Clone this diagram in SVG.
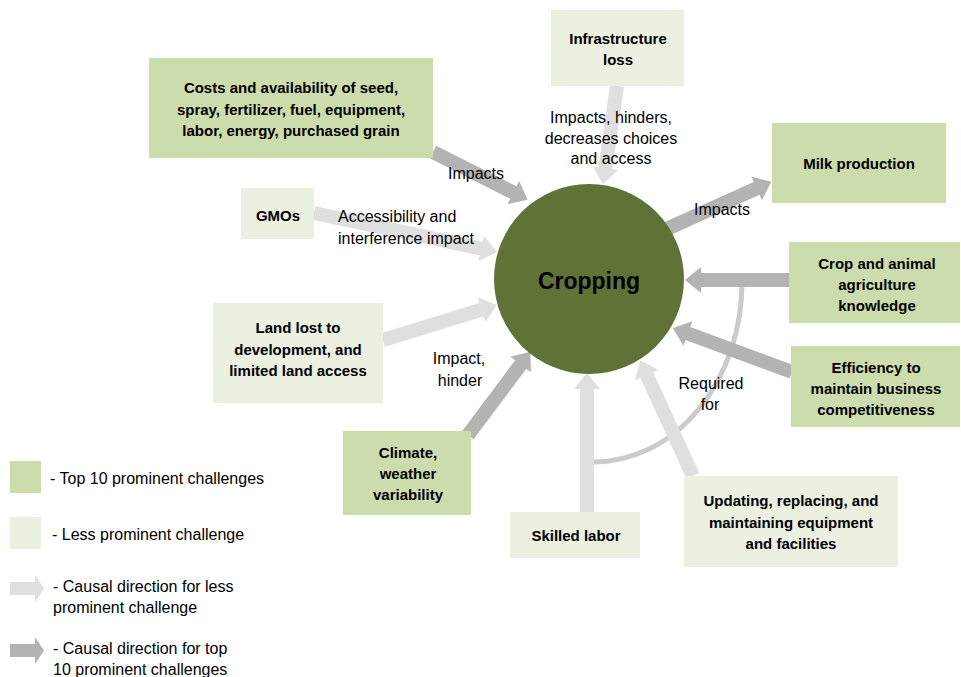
<svg xmlns="http://www.w3.org/2000/svg" width="961" height="677" viewBox="0 0 961 677">
<style>
text{font-family:"Liberation Sans",Arial,sans-serif;fill:#000}
.b{font-weight:bold;font-size:15px;text-anchor:middle}
.l{font-size:16px}
.c{text-anchor:middle}
.top{fill:#cddcac}
.less{fill:#ebf0e1}
.dark{fill:#b3b3b3}
.light{fill:#dfdfdf}
</style>
<rect width="961" height="677" fill="#fff"/>
<g id="connectors">
<path d="M742,282 A148,180 0 0 1 594,462" fill="none" stroke="#cbcbcb" stroke-width="5"/>
<path class="dark" transform="translate(433,152) rotate(26.8)" d="M0,-7H90V-13L106,0L90,13V7H0Z"/>
<path class="light" transform="translate(617,86) rotate(98.1)" d="M0,-7H83V-13L99,0L83,13V7H0Z"/>
<path class="light" transform="translate(314,213) rotate(12)" d="M0,-7H171V-13L187,0L171,13V7H0Z"/>
<path class="dark" transform="translate(660,232) rotate(-24.3)" d="M0,-7H106V-13L122,0L106,13V7H0Z"/>
<path class="dark" transform="translate(789,280) rotate(180)" d="M0,-7H88V-13L104,0L88,13V7H0Z"/>
<path class="dark" transform="translate(792,372) rotate(200.3)" d="M0,-7H111V-13L127,0L111,13V7H0Z"/>
<path class="light" transform="translate(383,340) rotate(-17.1)" d="M0,-7H103V-13L119,0L103,13V7H0Z"/>
<path class="dark" transform="translate(468,435) rotate(-53.2)" d="M0,-7H88V-13L104,0L88,13V7H0Z"/>
<path class="light" transform="translate(587,512) rotate(-90)" d="M0,-7H123V-13L139,0L123,13V7H0Z"/>
<path class="light" transform="translate(693,476) rotate(-114.6)" d="M0,-7H111V-13L127,0L111,13V7H0Z"/>
</g>
<g id="labels">
<text class="l c" x="476" y="179">Impacts</text>
<text class="l c" x="611" y="123">Impacts, hinders,</text>
<text class="l c" x="611" y="144">decreases choices</text>
<text class="l c" x="611" y="164">and access</text>
<text class="l" x="338" y="222">Accessibility and</text>
<text class="l" x="338" y="244">interference impact</text>
<text class="l c" x="722" y="215">Impacts</text>
<text class="l c" x="459" y="364">Impact,</text>
<text class="l c" x="460" y="386">hinder</text>
<text class="l c" x="711" y="389">Required</text>
<text class="l c" x="710" y="410">for</text>
</g>
<g id="cropping">
<circle cx="589" cy="279" r="95" fill="#607236"/>
<text x="589" y="289" style="font-weight:bold;font-size:23px;text-anchor:middle">Cropping</text>
</g>
<g id="costs">
<rect class="top" x="149" y="58" width="284" height="100"/>
<text class="b" x="291" y="93">Costs and availability of seed,</text>
<text class="b" x="291" y="115">spray, fertilizer, fuel, equipment,</text>
<text class="b" x="291" y="136">labor, energy, purchased grain</text>
</g>
<g id="infrastructure">
<rect class="less" x="551" y="10" width="133" height="76"/>
<text class="b" x="618" y="44">Infrastructure</text>
<text class="b" x="618" y="65">loss</text>
</g>
<g id="milk">
<rect class="top" x="772" y="123" width="174" height="80"/>
<text class="b" x="859" y="169">Milk production</text>
</g>
<g id="gmos">
<rect class="less" x="241" y="188" width="73" height="51"/>
<text class="b" x="278" y="221">GMOs</text>
</g>
<g id="knowledge">
<rect class="top" x="789" y="242" width="171" height="81"/>
<text class="b" x="877" y="269">Crop and animal</text>
<text class="b" x="877" y="290">agriculture</text>
<text class="b" x="877" y="311">knowledge</text>
</g>
<g id="efficiency">
<rect class="top" x="791" y="346" width="169" height="81"/>
<text class="b" x="876" y="373">Efficiency to</text>
<text class="b" x="876" y="394">maintain business</text>
<text class="b" x="876" y="415">competitiveness</text>
</g>
<g id="land">
<rect class="less" x="213" y="303" width="170" height="100"/>
<text class="b" x="298" y="333">Land lost to</text>
<text class="b" x="298" y="355">development, and</text>
<text class="b" x="298" y="376">limited land access</text>
</g>
<g id="climate">
<rect class="top" x="343" y="431" width="128" height="84"/>
<text class="b" x="408" y="458">Climate,</text>
<text class="b" x="408" y="479">weather</text>
<text class="b" x="408" y="500">variability</text>
</g>
<g id="skilled">
<rect class="less" x="510" y="512" width="130" height="46"/>
<text class="b" x="576" y="541">Skilled labor</text>
</g>
<g id="updating">
<rect class="less" x="684" y="476" width="214" height="91"/>
<text class="b" x="791" y="506">Updating, replacing, and</text>
<text class="b" x="791" y="528">maintaining equipment</text>
<text class="b" x="791" y="549">and facilities</text>
</g>
<g id="legend">
<rect class="top" x="10" y="461" width="31" height="32"/>
<text class="l" x="50" y="484">- Top 10 prominent challenges</text>
<rect class="less" x="10" y="517" width="31" height="32"/>
<text class="l" x="52" y="540">- Less prominent challenge</text>
<path class="light" d="M10,582H35V575L44,588.5L35,602V595H10Z"/>
<text class="l" x="53" y="592">- Causal direction for less</text>
<text class="l" x="53" y="613">prominent challenge</text>
<path class="dark" d="M10,644H35V637L44,650.5L35,664V657H10Z"/>
<text class="l" x="53" y="654">- Causal direction for top</text>
<text class="l" x="53" y="675">10 prominent challenges</text>
</g>
</svg>
